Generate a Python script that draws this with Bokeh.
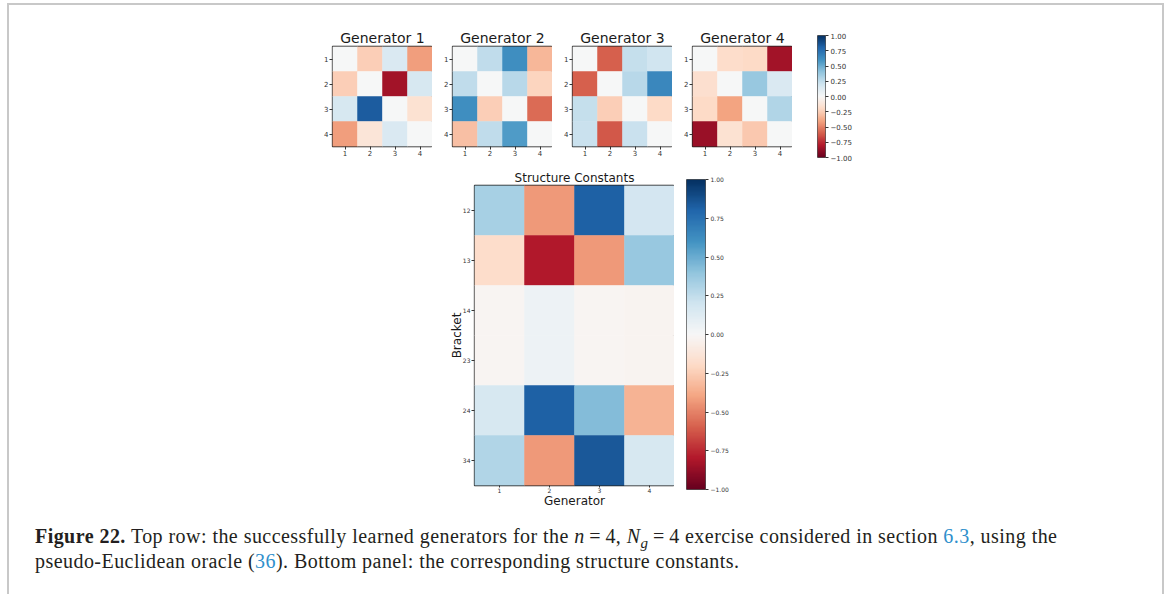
import numpy as np
from bokeh.plotting import figure
from bokeh.models import (ColumnDataSource, LinearColorMapper, FixedTicker,
                          CustomJSTickFormatter, FactorRange, Range1d, Div, Spacer)
from bokeh.layouts import row, column
from bokeh.embed import file_html
from bokeh.resources import INLINE

# ---------------- data ----------------
gen_index = ["1", "2", "3", "4"]
gen_titles = ["Generator 1", "Generator 2", "Generator 3", "Generator 4"]

gen1 = [[0.00, -0.25, 0.15, -0.42],
        [-0.25, 0.00, -0.84, 0.17],
        [0.17, 0.83, 0.00, -0.15],
        [-0.42, -0.13, 0.15, 0.00]]
gen2 = [[0.00, 0.25, 0.62, -0.33],
        [0.25, 0.00, 0.28, -0.22],
        [0.62, -0.25, 0.00, -0.57],
        [-0.30, 0.25, 0.57, 0.00]]
gen3 = [[0.00, -0.60, 0.24, 0.20],
        [-0.60, 0.00, 0.28, 0.65],
        [0.24, -0.25, 0.00, -0.20],
        [0.22, -0.62, 0.22, 0.00]]
gen4 = [[0.00, -0.18, -0.20, -0.84],
        [-0.17, 0.00, 0.38, 0.15],
        [-0.20, -0.40, 0.00, 0.30],
        [-0.86, -0.15, -0.27, 0.00]]
generators = [gen1, gen2, gen3, gen4]

brackets = ["12", "13", "14", "23", "24", "34"]
struct_gens = ["1", "2", "3", "4"]
struct = [[0.33, -0.43, 0.82, 0.18],
          [-0.18, -0.80, -0.43, 0.38],
          [-0.02, 0.05, -0.02, -0.03],
          [-0.02, 0.05, -0.02, -0.03],
          [0.17, 0.82, 0.43, -0.35],
          [0.30, -0.43, 0.85, 0.17]]

cbar_ticks = [-1.0, -0.75, -0.5, -0.25, 0.0, 0.25, 0.5, 0.75, 1.0]

# ---------------- colormap (RdBu) ----------------
rdbu11 = ["#67001f", "#b2182b", "#d6604d", "#f4a582", "#fddbc7", "#f7f7f7",
          "#d1e5f0", "#92c5de", "#4393c3", "#2166ac", "#053061"]


def interp_palette(cols, n=256):
    rgb = np.array([[int(c[i:i + 2], 16) for i in (1, 3, 5)] for c in cols], float)
    pos = np.linspace(0, 1, len(cols))
    t = np.linspace(0, 1, n)
    out = []
    for k in range(n):
        r = np.interp(t[k], pos, rgb[:, 0])
        g = np.interp(t[k], pos, rgb[:, 1])
        b = np.interp(t[k], pos, rgb[:, 2])
        out.append("#%02x%02x%02x" % (int(round(r)), int(round(g)), int(round(b))))
    return out


palette = interp_palette(rdbu11)
mapper = LinearColorMapper(palette=palette, low=-1, high=1)

FONT = "DejaVu Sans"
TXT = "#1a1a1a"
TICK = "#333333"
minus_fmt = CustomJSTickFormatter(code="return tick.toFixed(2).replace('-', '\u2212');")


def heatmap(title, rows, cols, values, fw, fh, bl, br, bt, bb, title_size,
            tick_size, xlabel=None, ylabel=None, label_size="12px"):
    xs, ys, vs = [], [], []
    for i, r in enumerate(rows):
        for j, c in enumerate(cols):
            xs.append(c)
            ys.append(r)
            vs.append(values[i][j])
    src = ColumnDataSource(dict(x=xs, y=ys, v=vs))
    p = figure(x_range=FactorRange(factors=list(cols)),
               y_range=FactorRange(factors=list(reversed(rows))),
               frame_width=fw, frame_height=fh,
               min_border_left=bl, min_border_right=br,
               min_border_top=bt, min_border_bottom=bb,
               toolbar_location=None, output_backend="svg", title=title,
               background_fill_color="white", border_fill_color=None)
    p.rect(x="x", y="y", width=1, height=1, source=src,
           fill_color={"field": "v", "transform": mapper},
           line_color={"field": "v", "transform": mapper}, line_width=0.5)
    p.grid.visible = False
    p.outline_line_color = "#222222"
    p.outline_line_width = 1.3
    p.title.align = "center"
    p.title.text_font = FONT
    p.title.text_font_style = "normal"
    p.title.text_font_size = title_size
    p.title.text_color = TXT
    p.title.standoff = 2
    for ax in (p.xaxis[0], p.yaxis[0]):
        ax.axis_line_color = None
        ax.major_tick_in = 0
        ax.major_tick_out = 3
        ax.major_tick_line_color = TICK
        ax.major_label_text_font = FONT
        ax.major_label_text_font_size = tick_size
        ax.major_label_text_color = TICK
        ax.major_label_standoff = 1
        ax.axis_label_text_font = FONT
        ax.axis_label_text_font_style = "normal"
        ax.axis_label_text_font_size = label_size
        ax.axis_label_text_color = TXT
        ax.axis_label_standoff = 0
    p.yaxis.major_label_orientation = "horizontal"
    if xlabel:
        p.xaxis.axis_label = xlabel
    if ylabel:
        p.yaxis.axis_label = ylabel
    return p


def cbar_figure(fw, fh, bl, br, bt, bb, font_size):
    lo, hi = mapper.low, mapper.high
    p = figure(x_range=Range1d(0, 1), y_range=Range1d(lo, hi),
               frame_width=fw, frame_height=fh,
               min_border_left=bl, min_border_right=br,
               min_border_top=bt, min_border_bottom=bb,
               toolbar_location=None, output_backend="svg",
               x_axis_location=None, y_axis_location="right",
               border_fill_color=None, background_fill_color=None)
    grad = np.linspace(lo, hi, 256).reshape(-1, 1)
    p.image(image=[grad], x=0, y=lo, dw=1, dh=hi - lo, color_mapper=mapper)
    p.grid.visible = False
    p.outline_line_color = "#555555"
    p.outline_line_width = 1
    ax = p.yaxis[0]
    ax.ticker = FixedTicker(ticks=cbar_ticks)
    ax.formatter = minus_fmt
    ax.axis_line_color = None
    ax.major_tick_in = 0
    ax.major_tick_out = 3
    ax.minor_tick_in = 0
    ax.minor_tick_out = 0
    ax.major_tick_line_color = TICK
    ax.major_label_text_font = FONT
    ax.major_label_text_font_size = font_size
    ax.major_label_text_color = TICK
    ax.major_label_standoff = 2
    # wrap in its own container so the row does not align its frame
    return column(p, spacing=0, margin=0)


# ---------------- top row ----------------
row1_children = [Spacer(width=303, height=161, margin=0)]
for t, g in zip(gen_titles, generators):
    hm = heatmap(t, gen_index, gen_index, g, 100, 100, 20, 0, 41, 20, "14px", "7px")
    hm.xaxis.major_label_standoff = 0
    row1_children.append(hm)
row1_children.append(cbar_figure(8, 122, 25, 40, 30, 9, "7px"))
row1 = row(*row1_children, spacing=0, margin=0)

# ---------------- bottom panel ----------------
sc = heatmap("Structure Constants", brackets, struct_gens, struct, 200, 300,
             40, 0, 19, 26, "12px", "6px", xlabel="Generator", ylabel="Bracket",
             label_size="12px")
sc.xaxis.major_tick_out = 2
sc.xaxis.major_label_standoff = 0
sc.xaxis.axis_label_standoff = -2
sc.yaxis.axis_label_standoff = -4
row2 = row(Spacer(width=425, height=344, margin=0), sc,
           cbar_figure(19, 310, 12, 40, 13, 21, "6px"), spacing=0, margin=0)

# ---------------- caption ----------------
link = "color:#2f8fcc"
sub_g = '<span style="font-size:0.75em;position:relative;top:0.3em;line-height:0">g</span>'
caption_html = (
    '<b>Figure 22.</b> Top row: the successfully learned generators for the '
    '<i>n</i>&#8201;=&#8201;4, <i>N' + sub_g + '</i>&#8201;=&#8201;4 '
    'exercise considered in section <span style="%s">6.3</span>, using the<br>'
    'pseudo-Euclidean oracle (<span style="%s">36</span>). Bottom panel: the '
    'corresponding structure constants.' % (link, link))
caption = Div(text=caption_html, width=1120, height=70, margin=(13, 0, 0, 26),
              styles={"font-family": "'Liberation Serif', serif",
                      "font-size": "20px", "line-height": "25px",
                      "letter-spacing": "0.45px",
                      "color": "#231f20", "white-space": "nowrap"})

inner = column(row1, row2, caption, Spacer(width=1153, height=0, margin=0),
               spacing=0, margin=0)

GREY = "#c8c8c8"
top_line = Div(text="", width=1157, height=2, margin=0,
               styles={"background-color": GREY})
left_line = Div(text="", width=2, height=589, margin=0,
                styles={"background-color": GREY})
right_line = Div(text="", width=2, height=589, margin=0,
                 styles={"background-color": GREY})

page = column(top_line, row(left_line, inner, right_line, spacing=0, margin=0),
              spacing=0, margin=(3, 0, 0, 7))

with open("out.html", "w", encoding="utf-8") as f:
    f.write(file_html(page, INLINE))
